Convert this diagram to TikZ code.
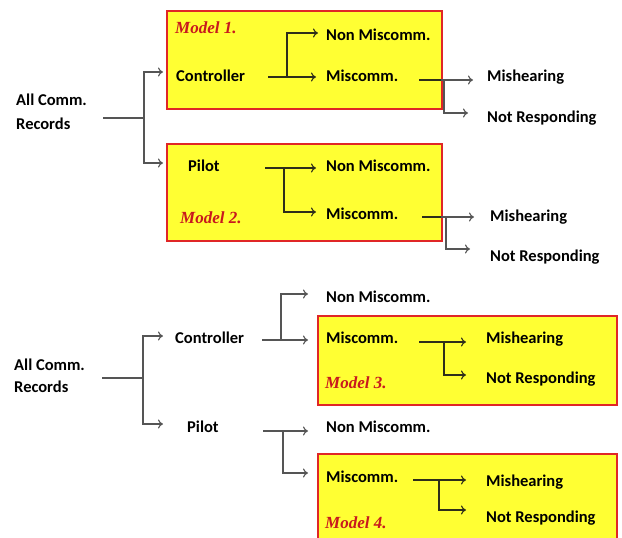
\documentclass[tikz,border=0pt]{standalone}
\usepackage{fontspec}
\setmainfont{Carlito}
\newfontfamily\tms{Liberation Serif}
\usetikzlibrary{arrows.meta}
\definecolor{boxyellow}{HTML}{FFFF33}
\definecolor{boxred}{HTML}{E02626}
\definecolor{modelred}{HTML}{C8191E}
\definecolor{lineout}{HTML}{555555}
\definecolor{linein}{HTML}{2E2E1A}
\tikzset{
  lbl/.style={anchor=west, inner sep=0pt, text height=10.6pt, text depth=0pt,
    font=\fontsize{16.5}{20}\selectfont\bfseries},
  rec/.style={anchor=west, inner sep=0pt, align=left,
    font=\fontsize{16.5}{24}\selectfont\bfseries},
  mdl/.style={anchor=west, inner sep=0pt, text height=11pt, text depth=0pt,
    text=modelred, font=\fontsize{17}{20}\selectfont\tms\bfseries\itshape},
  modelbox/.style={draw=boxred, fill=boxyellow, line width=2pt, anchor=north west, inner sep=0pt},
  ln/.style={draw=lineout, line width=1.1pt},
  lnin/.style={draw=linein, line width=1.1pt},
  arr/.style={-{To[length=5pt,width=9pt]}},
}
\begin{document}
\begin{tikzpicture}[x=1pt,y=-1pt]
\clip (0,0) rectangle (622,538);
\fill[white] (0,0) rectangle (622,538);

% ===== top half =====
\node[modelbox, minimum width=275pt, minimum height=98pt] (B1) at (166,10) {};
\node[modelbox, minimum width=275pt, minimum height=97pt] (B2) at (166,143) {};

\node[rec] (acr1) at (16,112) {All Comm.\\Records};
\node[mdl] (m1) at (175,28) {Model 1.};
\node[lbl] (ctrl1) at (176,76) {Controller};
\node[lbl] (non1) at (326,35) {Non Miscomm.};
\node[lbl] (mis1) at (326,76) {Miscomm.};
\node[lbl] (mh1) at (487,76) {Mishearing};
\node[lbl] (nr1) at (487,117) {Not Responding};

\node[lbl] (pil2) at (188,166) {Pilot};
\node[mdl] (m2) at (180,218) {Model 2.};
\node[lbl] (non2) at (326,166) {Non Miscomm.};
\node[lbl] (mis2) at (326,214) {Miscomm.};
\node[lbl] (mh2) at (490,216) {Mishearing};
\node[lbl] (nr2) at (490,256) {Not Responding};

% root split (top)
\coordinate (s1) at (103,118);
\coordinate (j1) at (144,118);
\coordinate (t1a) at (163,72);
\coordinate (t1b) at (163,163);
\draw[ln] (s1) -- (j1);
\draw[ln,arr] (j1) |- (t1a);
\draw[ln,arr] (j1) |- (t1b);

% controller (model 1)
\coordinate (c1s) at (268,77);
\coordinate (c1e) at (316,77);
\coordinate (c1b) at (287,77);
\coordinate (c1u) at (318,33);
\draw[lnin,arr] (c1s) -- (c1e);
\draw[lnin,arr] (c1b) |- (c1u);

% miscomm (model 1)
\coordinate (x1s) at (419,80);
\coordinate (x1e) at (473,80);
\coordinate (x1b) at (444,80);
\coordinate (x1d) at (468,113);
\draw[lnin] (x1s) -- (441,80);
\draw[ln,arr] (441,80) -- (x1e);
\draw[ln,arr] (x1b) |- (x1d);

% pilot (model 2)
\coordinate (p2s) at (265,168);
\coordinate (p2e) at (316,168);
\coordinate (p2b) at (284,168);
\coordinate (p2d) at (316,212);
\draw[lnin,arr] (p2s) -- (p2e);
\draw[lnin,arr] (p2b) |- (p2d);

% miscomm (model 2)
\coordinate (x2s) at (422,217);
\coordinate (x2e) at (474,217);
\coordinate (x2b) at (446,217);
\coordinate (x2d) at (470,249);
\draw[lnin] (x2s) -- (441,217);
\draw[ln,arr] (441,217) -- (x2e);
\draw[ln,arr] (x2b) |- (x2d);

% ===== bottom half =====
\node[modelbox, minimum width=299pt, minimum height=89pt] (B3) at (317,315) {};
\node[modelbox, minimum width=299pt, minimum height=105pt] (B4) at (317,453) {};

\node[rec, font=\fontsize{16.5}{22}\selectfont\bfseries] (acr2) at (14,376) {All Comm.\\Records};
\node[lbl] (ctrl3) at (175,338) {Controller};
\node[lbl] (pil4) at (187,427) {Pilot};
\node[lbl] (non3) at (326,297) {Non Miscomm.};
\node[lbl] (mis3) at (326,338) {Miscomm.};
\node[lbl] (mh3) at (486,338) {Mishearing};
\node[lbl] (nr3) at (486,378) {Not Responding};
\node[mdl] (m3) at (325,383) {Model 3.};

\node[lbl] (non4) at (326,427) {Non Miscomm.};
\node[lbl] (mis4) at (326,477) {Miscomm.};
\node[lbl] (mh4) at (486,481) {Mishearing};
\node[lbl] (nr4) at (486,517) {Not Responding};
\node[mdl] (m4) at (325,523) {Model 4.};

% root split (bottom)
\coordinate (s2) at (102,378);
\coordinate (j2) at (143,378);
\coordinate (t2a) at (163,336);
\coordinate (t2b) at (163,424);
\draw[ln] (s2) -- (j2);
\draw[ln,arr] (j2) |- (t2a);
\draw[ln,arr] (j2) |- (t2b);

% controller (bottom)
\coordinate (c3s) at (262,340);
\coordinate (c3e) at (308,340);
\coordinate (c3b) at (281,340);
\coordinate (c3u) at (308,294);
\draw[ln,arr] (c3s) -- (c3e);
\draw[ln,arr] (c3b) |- (c3u);

% miscomm (model 3)
\coordinate (x3s) at (419,342);
\coordinate (x3e) at (466,342);
\coordinate (x3b) at (444,342);
\coordinate (x3d) at (466,375);
\draw[lnin,arr] (x3s) -- (x3e);
\draw[lnin,arr] (x3b) |- (x3d);

% pilot (bottom)
\coordinate (p4s) at (263,431);
\coordinate (p4e) at (308,431);
\coordinate (p4b) at (283,431);
\coordinate (p4d) at (308,473);
\draw[ln,arr] (p4s) -- (p4e);
\draw[ln,arr] (p4b) |- (p4d);

% miscomm (model 4)
\coordinate (x4s) at (413,480);
\coordinate (x4e) at (466,480);
\coordinate (x4b) at (439,480);
\coordinate (x4d) at (466,510);
\draw[lnin,arr] (x4s) -- (x4e);
\draw[lnin,arr] (x4b) |- (x4d);
\end{tikzpicture}
\end{document}
